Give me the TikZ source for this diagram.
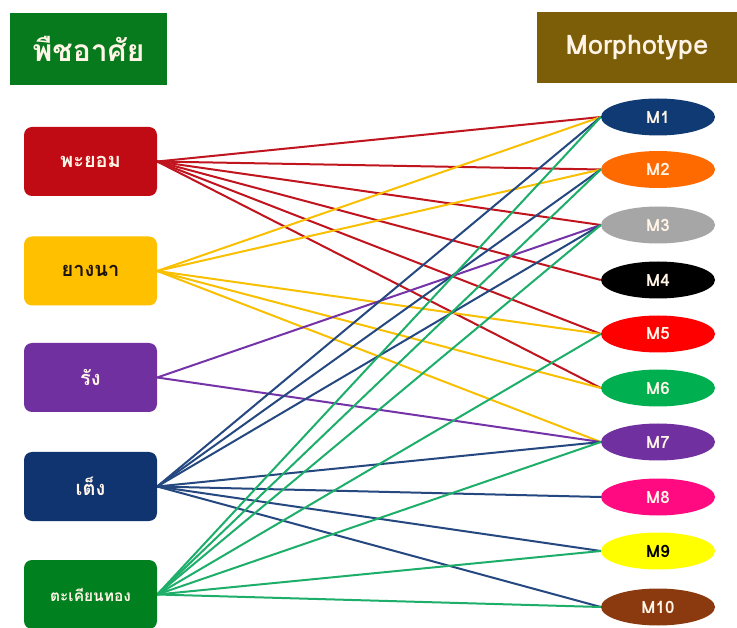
\documentclass[tikz,border=0pt]{standalone}
\usepackage{fontspec}
\newfontfamily\thaifont[Script=Thai]{Loma}
\usetikzlibrary{shapes.geometric}
\pgfdeclarelayer{background}
\pgfsetlayers{background,main}
\definecolor{hdrgreen}{HTML}{067A1C}
\definecolor{hdrbrown}{HTML}{7D5E08}
\definecolor{cred}{HTML}{C00A14}
\definecolor{cgold}{HTML}{FFC000}
\definecolor{cpurple}{HTML}{7030A0}
\definecolor{cnavy}{HTML}{0F3470}
\definecolor{cgreen}{HTML}{00801E}
\definecolor{lred}{HTML}{C0141E}
\definecolor{lgold}{HTML}{F8C000}
\definecolor{lpurple}{HTML}{7434A8}
\definecolor{lnavy}{HTML}{24487F}
\definecolor{lgreen}{HTML}{1DAF6A}
\definecolor{mnavy}{HTML}{0F3A73}
\definecolor{morange}{HTML}{FF6A00}
\definecolor{mgray}{HTML}{A6A6A6}
\definecolor{mred}{HTML}{FF0000}
\definecolor{mgreen}{HTML}{00B050}
\definecolor{mpurple}{HTML}{7030A0}
\definecolor{mpink}{HTML}{FF0A80}
\definecolor{myellow}{HTML}{FFFF00}
\definecolor{mbrown}{HTML}{8B3A0F}
\definecolor{ltext}{HTML}{FFF4E6}
\begin{document}
\begin{tikzpicture}[x=1pt,y=-1pt,
  header/.style={minimum width=#1, minimum height=72pt, inner sep=0pt,
    text=ltext, font=\thaifont\bfseries\fontsize{30}{32}\selectfont},
  hostbox/.style={fill=#1, rounded corners=8pt, minimum width=133pt,
    minimum height=69pt, inner sep=0pt, text=ltext,
    font=\thaifont\bfseries\fontsize{20}{22}\selectfont},
  morph/.style={ellipse, fill=#1, minimum width=114pt, minimum height=37pt,
    inner sep=0pt, text=ltext, font=\thaifont\bfseries\fontsize{17}{19}\selectfont},
  link/.style={draw=#1, line width=2pt}]
\useasboundingbox (0,0) rectangle (737,628);

% column headers
\node[header=157pt, fill=hdrgreen] (hhost) at (88.5,49) {พืชอาศัย};
\node[header=200pt, fill=hdrbrown, minimum height=71pt,
      font=\thaifont\bfseries\fontsize{27}{30}\selectfont] (hmorph) at (637,48) {Morphotype};

% host plants
\node[hostbox=cred] (h1) at (90.5,161.5) {พะยอม};
\node[hostbox=cgold, text={black!85!brown}] (h2) at (90.5,271) {ยางนา};
\node[hostbox=cpurple] (h3) at (90.5,377.5) {รัง};
\node[hostbox=cnavy] (h4) at (90.5,486.5) {เต็ง};
\node[hostbox=cgreen, font=\thaifont\bfseries\fontsize{15.5}{18}\selectfont] (h5) at (90.5,594.5) {ตะเคียนทอง};

% morphotypes
\node[morph=mnavy]   (m1)  at (658,117) {M1};
\node[morph=morange] (m2)  at (658,169.5) {M2};
\node[morph=mgray]   (m3)  at (658,225) {M3};
\node[morph=black]   (m4)  at (658,280) {M4};
\node[morph=mred]    (m5)  at (658,334) {M5};
\node[morph=mgreen]  (m6)  at (658,388) {M6};
\node[morph=mpurple] (m7)  at (658,442) {M7};
\node[morph=mpink]   (m8)  at (658,497) {M8};
\node[morph=myellow, text=black] (m9) at (658,551) {M9};
\node[morph=mbrown]  (m10) at (658,607) {M10};

% white page, then the links host -> morphotype, all behind the shapes
\begin{pgfonlayer}{background}
\fill[white] (0,0) rectangle (737,628);
\foreach \m in {m1,m2,m3,m4,m5,m6}
  \draw[link=lred] (h1.east) -- (\m.west);
\foreach \m in {m1,m2,m5,m6,m7}
  \draw[link=lgold] (h2.east) -- (\m.west);
\foreach \m in {m3,m7}
  \draw[link=lpurple] (h3.east) -- (\m.west);
\foreach \m in {m1,m2,m3,m7,m8,m9,m10}
  \draw[link=lnavy] (h4.east) -- (\m.west);
\foreach \m in {m1,m2,m3,m5,m7,m9,m10}
  \draw[link=lgreen] (h5.east) -- (\m.west);
\end{pgfonlayer}
\end{tikzpicture}
\end{document}
